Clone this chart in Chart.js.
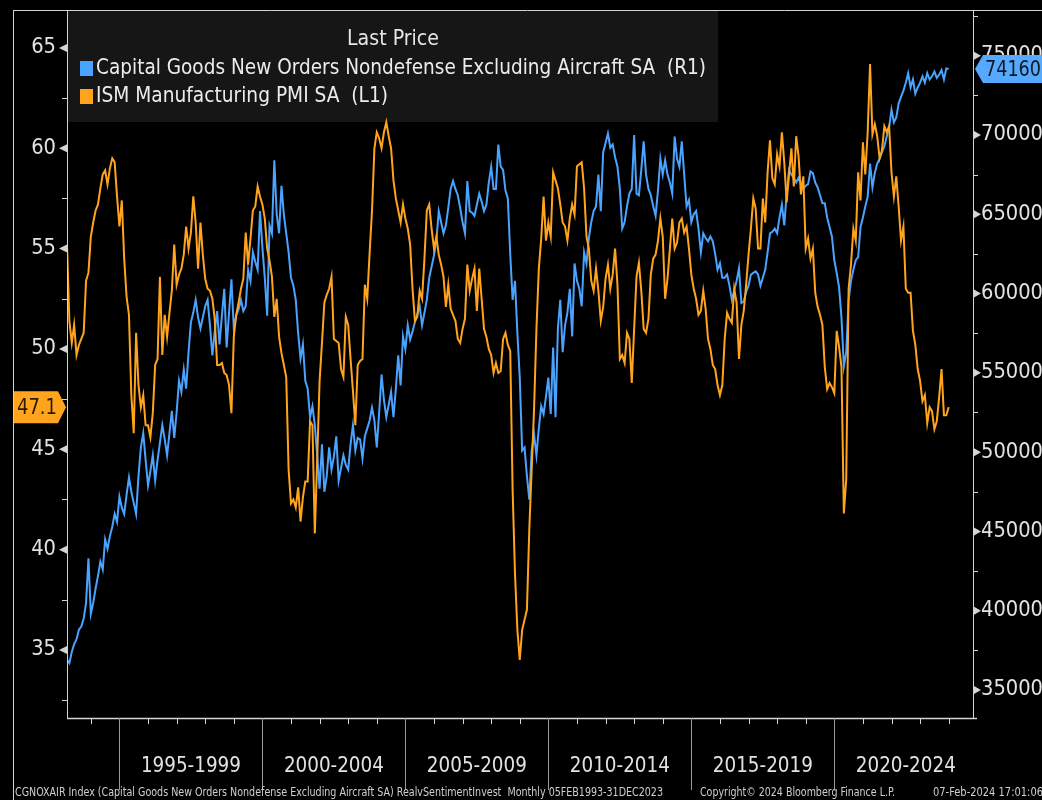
<!DOCTYPE html>
<html>
<head>
<meta charset="utf-8">
<script src="https://cdn.jsdelivr.net/npm/chart.js@4.4.1/dist/chart.umd.min.js"></script>
<style>
  html, body { margin: 0; padding: 0; background: #000; }
  #wrap { width: 1042px; height: 800px; }
</style>
</head>
<body>
<div id="wrap"><canvas id="chart" width="1042" height="800"></canvas></div>
<script>
// monthly values, first point = Feb 1993, last = Dec 2023
const capexOrders = [
  36900, 36700, 37400, 37900, 38200, 38800, 39000, 39500, 40500, 43300, 39800,
  40500, 41400, 42200, 43100, 42600, 44500, 43900, 44700, 45300, 46100, 45600, 47200,
  46500, 46100, 47300, 48400, 47500, 46800, 46100, 48500, 50300, 51200, 49500, 47900,
  48800, 49800, 48200, 49500, 50600, 51700, 50800, 49800, 51200, 52600, 50900, 52500,
  54500, 53800, 55200, 54000, 56300, 58200, 58800, 59600, 58500, 57800, 58500, 59200,
  59600, 58000, 56100, 57600, 58900, 56800, 58600, 60300, 56600, 58800, 60900, 57800,
  58600, 59000, 59600, 58900, 59200, 61500, 60800, 62600, 62000, 61500, 65200, 62900,
  61000, 58600, 64300, 63800, 68400, 65000, 63800, 66800, 65000, 63800, 62600, 61000,
  60500, 59600, 57500, 55900, 56800, 54500, 54000, 52200, 52900, 51700, 49800, 47700,
  50500, 47500, 48500, 50300, 48900, 49700, 51000, 48200, 49000, 49800, 49200, 48900,
  50500, 51700, 50100, 50900, 50800, 49600, 51000, 51500, 52000, 52800, 52000, 50300,
  52500, 54900, 53300, 52200, 53000, 53800, 52200, 54000, 56100, 54200, 57300, 56500,
  58000, 57100, 57600, 58200, 58700, 59200, 58000, 58800, 59600, 61000, 61700, 62400,
  63300, 65200, 64500, 63800, 64300, 65400, 66600, 67100, 66600, 66200, 65400, 64500,
  63800, 67100, 65200, 65100, 64900, 65600, 66300, 65800, 65200, 65600, 67000, 68000,
  66600, 66600, 69400, 68000, 67800, 66500, 66000, 62500, 59600, 60800, 57500, 54700,
  50100, 50300, 48500, 47000, 50100, 51100, 49800, 51500, 52900, 52400, 53500, 54700,
  52400, 56600, 52200, 57800, 59600, 56300, 58000, 58800, 60300, 57300, 61900, 60800,
  60300, 59200, 62600, 61900, 63500, 64500, 65200, 65500, 67500, 65200, 68900, 69500,
  70100, 69200, 69400, 68600, 68000, 66600, 64100, 64500, 65500, 66300, 66600, 70000,
  66300, 66200, 67800, 69600, 67500, 66600, 66200, 65500, 64900, 66500, 68500, 67500,
  68400, 67500, 67000, 66300, 69900, 68500, 68000, 69600, 67500, 65500, 65900, 64500,
  65000, 65200, 64100, 62600, 63800, 63500, 63300, 63600, 63300, 62500, 61500, 61900,
  61000, 61000, 61200, 60500, 59600, 60200, 60800, 61600, 59400, 59500, 60100, 60500,
  61200, 61300, 61400, 61200, 60500, 61000, 61500, 62600, 63800, 63900, 64100, 63800,
  64800, 65600, 64300, 66300, 67800, 67500, 67300, 67000, 67300, 67000, 66600, 66800,
  66900, 67700, 67600, 67000, 66700, 66200, 65700, 65700, 64800, 64200, 63600, 62100,
  61300, 60400, 58500, 55400, 56300, 59600, 60800, 61500, 62100, 62300, 64200, 64800,
  65500, 66100, 68200, 66700, 67600, 68200, 68500, 68900, 69300, 69900, 70500, 71600,
  70800, 71100, 72000, 72400, 72800, 73300, 73900, 73000, 73500, 72600, 73000, 73300,
  73700, 73300, 73900, 73500, 73700, 74000, 73600, 73800, 74100, 73500, 74200, 74160
];
const ismPmi = [
  55.2, 51.4, 50.3, 51.2, 49.7, 50.2, 50.5, 50.8, 53.4, 53.8, 55.6,
  56.3, 56.9, 57.2, 58.0, 58.7, 58.9, 58.2, 59.0, 59.5, 59.3, 57.6, 56.1,
  57.4, 54.5, 52.6, 51.7, 47.7, 45.8, 50.8, 48.2, 47.1, 47.7, 46.2, 46.2,
  45.6, 46.8, 49.2, 49.5, 53.6, 49.7, 51.7, 50.6, 51.8, 52.9, 55.2, 53.2,
  53.7, 54.0, 54.7, 56.1, 55.0, 55.8, 57.6, 56.3, 54.0, 56.3, 54.7, 53.5,
  53.0, 52.9, 52.5, 51.5, 49.2, 49.2, 49.3, 48.8, 48.7, 48.2, 46.8, 50.6,
  51.7, 52.3, 53.0, 53.5, 55.8, 54.2, 55.5, 56.9, 57.1, 58.1, 57.6, 57.2,
  56.5, 55.0, 54.4, 53.6, 51.6, 52.5, 50.6, 49.8, 49.2, 48.6, 44.0, 42.3,
  42.5, 42.1, 43.1, 41.4, 42.6, 43.4, 43.4, 46.4, 46.2, 40.8, 44.5, 48.4,
  50.3, 52.3, 52.7, 53.0, 53.6, 50.5, 50.4, 50.3, 49.0, 48.6, 51.6, 51.2,
  49.5, 47.9, 46.2, 49.2, 49.4, 49.5, 53.2, 52.5, 54.8, 56.9, 60.0, 60.8,
  60.5, 60.0, 60.8, 61.3, 60.6, 60.0, 58.4, 57.5, 56.9, 56.3, 57.2, 56.5,
  56.0, 55.2, 53.0, 51.4, 51.6, 52.9, 52.5, 54.5, 56.9, 57.2, 56.0, 55.0,
  55.6, 54.7, 54.2, 53.6, 52.1, 53.2, 52.0, 51.7, 51.4, 50.5, 50.3, 51.0,
  51.5, 54.2, 52.9, 53.5, 54.0, 51.9, 54.0, 52.5, 51.0, 50.6, 50.0, 49.7,
  48.8, 49.3, 48.8, 48.9, 50.5, 50.8, 50.2, 49.9, 43.0, 38.8, 36.0, 34.5,
  36.0, 36.5, 37.0, 41.0, 44.0, 47.0, 51.0, 54.0, 55.5, 57.6, 55.4, 56.3,
  55.6, 58.8, 58.4, 58.0, 57.2, 56.3, 56.1, 55.4, 56.5, 57.2, 56.7, 59.1,
  59.2, 59.3, 58.0, 55.6, 55.0, 53.4, 52.9, 54.0, 52.9, 51.4, 52.1, 53.5,
  54.2, 53.0, 53.7, 55.0, 53.2, 49.5, 49.7, 49.3, 50.8, 50.5, 48.3, 51.0,
  53.6, 54.3, 52.9, 51.0, 50.8, 51.5, 53.7, 54.5, 54.7, 55.4, 56.5, 55.6,
  52.5, 53.5, 55.0, 56.5, 55.0, 55.3, 56.3, 56.5, 55.8, 56.1, 55.0, 53.7,
  53.0, 52.5, 51.7, 51.9, 52.9, 52.0, 50.5, 50.0, 49.2, 49.0, 48.2, 47.7,
  48.2, 50.5, 51.8, 51.5, 51.3, 53.0, 52.3, 49.5, 51.2, 51.9, 53.2, 54.7,
  56.0, 57.5, 57.0, 55.0, 55.0, 57.5, 56.3, 58.8, 60.4, 58.5, 58.2, 59.7,
  59.1, 60.8, 59.3, 57.3, 58.7, 60.0, 58.1, 60.6, 59.6, 57.7, 58.6, 55.0,
  55.5, 54.5, 55.0, 52.8, 52.1, 51.7, 51.2, 49.1, 48.0, 48.3, 48.1, 47.8,
  50.9, 50.1, 49.1, 41.8, 43.5, 53.0, 54.2, 56.0, 55.4, 58.8, 57.4, 60.3,
  58.7, 60.8, 64.2, 60.7, 61.2, 60.6, 59.5, 59.9, 61.1, 60.8, 61.1, 58.8,
  57.6, 58.6, 57.1, 55.4, 56.1, 53.0, 52.8, 52.8, 50.9, 50.2, 49.0, 48.4,
  47.4, 47.7, 46.3, 47.1, 46.9, 46.0, 46.4, 47.6, 49.0, 46.7, 46.7, 47.1
];
const periodLabels = ['1995-1999', '2000-2004', '2005-2009', '2010-2014', '2015-2019', '2020-2024'];
const leftTicks = [35, 40, 45, 50, 55, 60, 65];
const rightTicks = [35000, 40000, 45000, 50000, 55000, 60000, 65000, 70000, 75000];

const BLUE = '#4aa3ff';
const ORANGE = '#ffa41c';
const AXIS = '#d4d4d4';
const FONT = '"DejaVu Sans Condensed", "DejaVu Sans", sans-serif';

function txt(ctx, s, x, y, size, color, align, width) {
  ctx.save();
  ctx.font = size + 'px ' + FONT;
  ctx.fillStyle = color;
  ctx.textBaseline = 'middle';
  ctx.textAlign = 'left';
  const w = ctx.measureText(s).width;
  const sx = width ? width / w : 1;
  let x0 = x;
  if (align === 'center') x0 = x - w * sx / 2;
  if (align === 'right') x0 = x - w * sx;
  ctx.translate(x0, y);
  ctx.scale(sx, 1);
  ctx.fillText(s, 0, 0);
  ctx.restore();
}

function line(ctx, x1, y1, x2, y2, color, w) {
  ctx.strokeStyle = color;
  ctx.lineWidth = w || 1;
  ctx.beginPath();
  ctx.moveTo(x1, y1);
  ctx.lineTo(x2, y2);
  ctx.stroke();
}

const frame = {
  id: 'frame',
  beforeDraw(c) {
    const ctx = c.ctx;
    ctx.save();
    ctx.fillStyle = '#000';
    ctx.fillRect(0, 0, c.width, c.height);
    ctx.restore();
  },
  beforeDatasetsDraw(c) {
    const ctx = c.ctx, a = c.chartArea;
    ctx.save();
    // legend box
    ctx.fillStyle = '#161616';
    ctx.fillRect(a.left + 1, a.top + 1, 650, 111);
    txt(ctx, 'Last Price', 393, 40, 21, '#e6e6e6', 'center', 92);
    ctx.fillStyle = BLUE;
    ctx.fillRect(80, 61, 13, 15);
    ctx.fillStyle = ORANGE;
    ctx.fillRect(80, 89, 13, 15);
    txt(ctx, 'Capital Goods New Orders Nondefense Excluding Aircraft SA  (R1)', 96, 69, 21, '#ececec', 'left', 610);
    txt(ctx, 'ISM Manufacturing PMI SA  (L1)', 96, 97, 21, '#ececec', 'left', 292);
    ctx.restore();
  },
  afterDatasetsDraw(c) {
    const ctx = c.ctx, a = c.chartArea;
    const x = c.scales.x, yL = c.scales.yL, yR = c.scales.yR;
    ctx.save();
    ctx.lineCap = 'butt';
    // outer frame and axes
    line(ctx, 13.5, a.top, 13.5, 800, AXIS);
    line(ctx, 13, a.top + 0.5, 1042, a.top + 0.5, AXIS);
    line(ctx, a.left + 0.5, a.top, a.left + 0.5, a.bottom, AXIS);
    line(ctx, a.right + 0.5, a.top, a.right + 0.5, a.bottom, AXIS);
    line(ctx, a.left, a.bottom + 0.5, a.right + 4, a.bottom + 0.5, AXIS, 1.5);

    // left axis
    ctx.font = '21px ' + FONT;
    const digitScale = 62 / ctx.measureText('70000').width;
    leftTicks.forEach(v => {
      const py = yL.getPixelForValue(v);
      ctx.fillStyle = AXIS;
      ctx.beginPath();
      ctx.moveTo(a.left - 8, py);
      ctx.lineTo(a.left, py - 4);
      ctx.lineTo(a.left, py + 4);
      ctx.closePath();
      ctx.fill();
      ctx.font = '21px ' + FONT;
      const w = ctx.measureText(String(v)).width * digitScale;
      txt(ctx, String(v), 56, py, 21, '#e2e2e2', 'right', w);
      const pm = yL.getPixelForValue(v - 2.5);
      line(ctx, a.left - 5, Math.round(pm) + 0.5, a.left, Math.round(pm) + 0.5, AXIS);
    });
    line(ctx, a.left - 5, Math.round(yL.getPixelForValue(62.5)) + 0.5, a.left, Math.round(yL.getPixelForValue(62.5)) + 0.5, AXIS);

    // right axis
    rightTicks.forEach(v => {
      const py = yR.getPixelForValue(v);
      ctx.fillStyle = AXIS;
      ctx.beginPath();
      ctx.moveTo(a.right + 8, py);
      ctx.lineTo(a.right + 1, py - 4);
      ctx.lineTo(a.right + 1, py + 4);
      ctx.closePath();
      ctx.fill();
      txt(ctx, String(v), 981, py, 21, '#e2e2e2', 'left', 62);
      const pm = yR.getPixelForValue(v + 2500);
      line(ctx, a.right, Math.round(pm) + 0.5, a.right + 5, Math.round(pm) + 0.5, AXIS);
    });

    // x axis: yearly ticks, 5-year separators, labels
    for (let i = 10; i < capexOrders.length + 1; i += 12) {
      const px = Math.round(x.getPixelForValue(i)) + 0.5;
      line(ctx, px, a.bottom, px, a.bottom + 6, AXIS);
    }
    periodLabels.forEach((lab, k) => {
      const px = Math.round(x.getPixelForValue(22 + 60 * k)) + 0.5;
      line(ctx, px, a.bottom, px, 790, '#9a9a9a');
      const cx = x.getPixelForValue(52 + 60 * k);
      txt(ctx, lab, cx, 767, 21, '#e2e2e2', 'center', 100);
    });

    // last value tags
    const lastR = capexOrders[capexOrders.length - 1];
    const ty = yR.getPixelForValue(lastR);
    ctx.fillStyle = '#55aaff';
    ctx.beginPath();
    ctx.moveTo(a.right + 2, ty);
    ctx.lineTo(a.right + 10, ty - 14);
    ctx.lineTo(1042, ty - 14);
    ctx.lineTo(1042, ty + 14);
    ctx.lineTo(a.right + 10, ty + 14);
    ctx.closePath();
    ctx.fill();
    txt(ctx, String(lastR), 985, ty + 1, 22, '#101820', 'left', 56);

    const lastL = ismPmi[ismPmi.length - 1];
    const tl = yL.getPixelForValue(lastL);
    ctx.fillStyle = ORANGE;
    ctx.beginPath();
    ctx.moveTo(14, tl - 16);
    ctx.lineTo(58, tl - 16);
    ctx.lineTo(a.left - 1, tl);
    ctx.lineTo(58, tl + 16);
    ctx.lineTo(14, tl + 16);
    ctx.closePath();
    ctx.fill();
    txt(ctx, lastL.toFixed(1), 17, tl + 1, 22, '#2a1a05', 'left', 40);

    // footer
    txt(ctx, 'CGNOXAIR Index (Capital Goods New Orders Nondefense Excluding Aircraft SA) RealvSentimentInvest  Monthly 05FEB1993-31DEC2023', 15, 793, 12, '#cfcfcf', 'left', 648);
    txt(ctx, 'Copyright\u00a9 2024 Bloomberg Finance L.P.', 700, 793, 12, '#cfcfcf', 'left', 195);
    txt(ctx, '07-Feb-2024 17:01:06', 933, 793, 12, '#cfcfcf', 'left', 110);
    ctx.restore();
  }
};

const chart = new Chart(document.getElementById('chart').getContext('2d'), {
  type: 'line',
  data: {
    datasets: [
      {
        label: 'ISM Manufacturing PMI SA (L1)',
        data: ismPmi.map((v, i) => ({ x: i, y: v })),
        yAxisID: 'yL',
        borderColor: ORANGE,
        borderWidth: 2,
        pointRadius: 0,
        tension: 0
      },
      {
        label: 'Capital Goods New Orders Nondefense Excluding Aircraft SA (R1)',
        data: capexOrders.map((v, i) => ({ x: i, y: v })),
        yAxisID: 'yR',
        borderColor: BLUE,
        borderWidth: 2,
        pointRadius: 0,
        tension: 0
      }
    ]
  },
  options: {
    responsive: false,
    animation: false,
    layout: { padding: { left: 67, top: 10, right: 69, bottom: 82 } },
    plugins: { legend: { display: false }, tooltip: { enabled: false } },
    scales: {
      x: { type: 'linear', min: 0, max: 380.2, display: false },
      yL: { type: 'linear', position: 'left', min: 31.61, max: 66.89, display: false },
      yR: { type: 'linear', position: 'right', min: 33234, max: 77883, display: false }
    }
  },
  plugins: [frame]
});
</script>
</body>
</html>
